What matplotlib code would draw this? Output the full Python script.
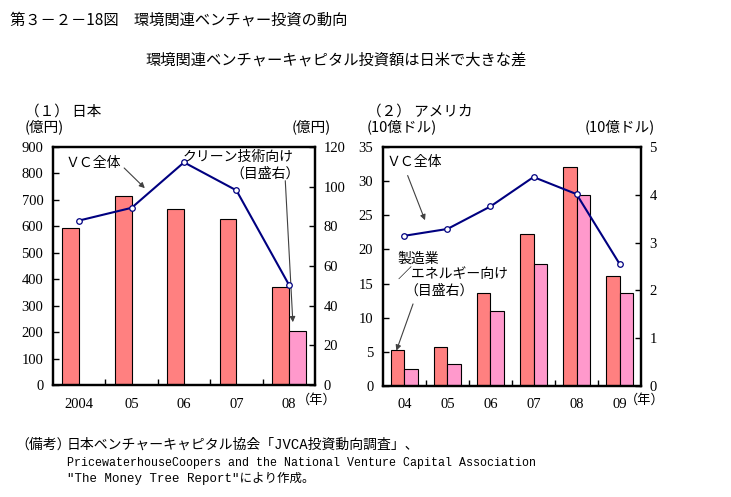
import matplotlib
matplotlib.use('Agg')
import matplotlib.pyplot as plt
import numpy as np

plt.rcParams['font.family'] = ['Noto Sans CJK JP', 'DejaVu Sans']

# (1) 日本
jp_years = ['2004', '05', '06', '07', '08']
jp_vc = [622, 670, 842, 736, 380]            # VC全体 (左目盛, 億円)
jp_red = [79.1, 95.5, 88.7, 83.6, 49.6]      # 右目盛 (億円)
jp_clean = [np.nan, np.nan, np.nan, np.nan, 27.1]  # クリーン技術向け (右目盛)

# (2) アメリカ
us_years = ['04', '05', '06', '07', '08', '09']
us_vc = [22.0, 23.0, 26.3, 30.6, 28.1, 17.9]       # VC全体 (左目盛, 10億ドル)
us_red = [0.75, 0.81, 1.94, 3.19, 4.59, 2.31]      # 右目盛 (10億ドル)
us_mfg = [0.35, 0.45, 1.56, 2.56, 4.00, 1.94]      # 製造業/エネルギー向け (右目盛)

RED = '#FF8080'
PINK = '#FF99CC'
NAVY = '#000080'
NUM_FONT = 'Liberation Serif'


def panel(rect, years, line_vals, red_vals, pink_vals, lmax, lstep, rmax, rstep):
    ax = fig.add_axes(rect)
    axr = ax.twinx()
    x = np.arange(len(years))
    w = 0.32
    axr.bar(x - w / 2, red_vals, w, color=RED, edgecolor='black', linewidth=0.8)
    axr.bar(x + w / 2, pink_vals, w, color=PINK, edgecolor='black', linewidth=0.8)
    ax.plot(x, line_vals, color=NAVY, lw=1.5, marker='o', ms=4,
            mfc='white', mec=NAVY, mew=0.9, zorder=5)
    # line above the bars
    ax.set_zorder(axr.get_zorder() + 1)
    ax.patch.set_visible(False)

    ax.set_xlim(-0.5, len(years) - 0.5)
    ax.set_ylim(0, lmax)
    axr.set_ylim(0, rmax)
    ax.set_yticks(np.arange(0, lmax + lstep / 2, lstep))
    axr.set_yticks(np.arange(0, rmax + rstep / 2, rstep))
    ax.set_xticks(x)
    ax.set_xticklabels(years)
    ax.set_xticks(np.arange(0.5, len(years) - 1, 1), minor=True)

    ax.tick_params(axis='y', direction='in', length=4, width=1, pad=7)
    axr.tick_params(axis='y', direction='in', length=4, width=1, pad=6)
    ax.tick_params(axis='x', which='major', length=0, pad=9)
    ax.tick_params(axis='x', which='minor', direction='in', length=4, width=1)
    for a in (ax, axr):
        for lab in a.get_yticklabels() + a.get_xticklabels():
            lab.set_fontfamily(NUM_FONT)
            lab.set_fontsize(10.5)
        for s in a.spines.values():
            s.set_linewidth(1.6)
    return ax, axr


fig = plt.figure(figsize=(7.31, 4.97), dpi=100)
W, H = 731, 497

fig.text(10 / W, 1 - 20 / H, '第３－２－18図　環境関連ベンチャー投資の動向',
         fontsize=11, va='center', ha='left')
fig.text(145 / W, 1 - 60 / H, '環境関連ベンチャーキャピタル投資額は日米で大きな差',
         fontsize=11, va='center', ha='left')

# 日本
ax1, ax1r = panel([53 / W, 1 - 385 / H, 262 / W, 238 / H],
                  jp_years, jp_vc, jp_red, jp_clean, 900, 100, 120, 20)
fig.text(25 / W, 1 - 112 / H, '（１） 日本', fontsize=10.5, va='center')
fig.text(25 / W, 1 - 127 / H, '(億円)', fontsize=10.5, va='center')
fig.text(292 / W, 1 - 127 / H, '(億円)', fontsize=10.5, va='center')
ax1.text(4.16, -0.063, '（年）', transform=ax1.get_xaxis_transform(),
         fontsize=9.5, va='center', ha='left')
ax1.text(-0.27, 839, 'ＶＣ全体', fontsize=10, va='center', ha='left')
ax1.annotate('', xy=(1.29, 737), xytext=(0.82, 828),
             arrowprops=dict(arrowstyle='-|>', color='#404040', lw=0.8,
                             mutation_scale=8))
ax1.text(1.98, 862, 'クリーン技術向け', fontsize=10, va='center', ha='left')
ax1.text(2.88, 798, '（目盛右）', fontsize=10, va='center', ha='left')
ax1.annotate('', xy=(4.08, 227), xytext=(3.93, 783),
             arrowprops=dict(arrowstyle='-|>', color='#404040', lw=0.8,
                             mutation_scale=8))

# アメリカ
ax2, ax2r = panel([383 / W, 1 - 386 / H, 258 / W, 239 / H],
                  us_years, us_vc, us_red, us_mfg, 35, 5, 5, 1)
fig.text(367 / W, 1 - 112 / H, '（２） アメリカ', fontsize=10.5, va='center')
fig.text(367 / W, 1 - 127 / H, '(10億ドル)', fontsize=10.5, va='center')
fig.text(585 / W, 1 - 127 / H, '(10億ドル)', fontsize=10.5, va='center')
ax2.text(5.13, -0.059, '（年）', transform=ax2.get_xaxis_transform(),
         fontsize=9.5, va='center', ha='left')
ax2.text(-0.41, 32.8, 'ＶＣ全体', fontsize=10, va='center', ha='left')
ax2.annotate('', xy=(0.50, 23.9), xytext=(0.05, 31.2),
             arrowprops=dict(arrowstyle='-|>', color='#404040', lw=0.8,
                             mutation_scale=8))
ax2.text(-0.16, 18.7, '製造業', fontsize=10, va='center', ha='left')
ax2.text(-0.16, 16.25, '／エネルギー向け', fontsize=10, va='center', ha='left')
ax2.text(0.0, 13.9, '（目盛右）', fontsize=10, va='center', ha='left')
ax2.annotate('', xy=(-0.21, 4.8), xytext=(0.22, 12.4),
             arrowprops=dict(arrowstyle='-|>', color='#404040', lw=0.8,
                             mutation_scale=8))

# 備考
foot = ['Liberation Mono', 'Noto Sans CJK JP']
fig.text(15 / W, 1 - 445 / H, '（備考）', fontsize=10, va='center', family=foot)
fig.text(67 / W, 1 - 445 / H, '日本ベンチャーキャピタル協会「JVCA投資動向調査」、',
         fontsize=10, va='center', family=foot)
fig.text(67 / W, 1 - 463 / H,
         'PricewaterhouseCoopers and the National Venture Capital Association',
         fontsize=8.4, va='center', family=foot)
fig.text(67 / W, 1 - 478 / H, '"The Money Tree Report"により作成。',
         fontsize=9, va='center', family=foot)

fig.savefig('out.png', dpi=100)
